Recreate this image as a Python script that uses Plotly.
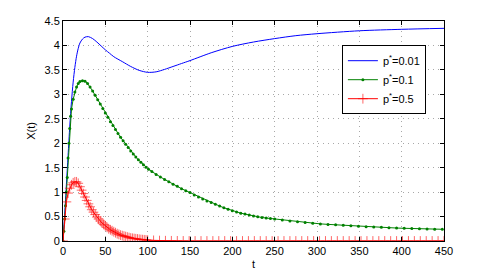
import plotly.graph_objects as go

# ---- data ----
t_blue = [0, 2, 4, 6, 8, 10, 12, 14, 16, 18, 20, 23, 26, 30, 35, 40, 45, 50, 55, 60,
          70, 80, 90, 100, 110, 120, 130, 140, 150, 175, 200, 225, 250, 275, 300,
          350, 400, 450]
x_blue = [0, 0.55, 1.15, 1.75, 2.35, 2.85, 3.25, 3.55, 3.78, 3.94, 4.05, 4.13, 4.17,
          4.18, 4.14, 4.07, 3.99, 3.91, 3.84, 3.77, 3.67, 3.57, 3.49, 3.45, 3.46,
          3.51, 3.57, 3.63, 3.69, 3.85, 3.98, 4.07, 4.14, 4.20, 4.24, 4.30, 4.33, 4.35]

t_green = [0, 1, 2, 3, 4, 5, 6, 7, 8, 9, 10, 12, 14, 16, 18, 20, 23, 26, 29, 32, 35,
           38, 41, 44, 47, 50, 53, 56, 59, 62, 65, 68, 71, 74, 77, 80, 83, 86, 89, 92,
           95, 98, 101, 105, 110, 115, 120, 125, 130, 135, 140, 145, 150, 155, 160,
           165, 170, 175, 180, 185, 190, 195, 200, 205, 210, 215, 220, 225, 230, 235,
           240, 245, 250, 259, 268, 277, 286, 295, 304, 313, 322, 331, 340, 349, 358,
           367, 376, 385, 394, 403, 412, 421, 430, 439, 448]
x_green = [0, 0.2, 0.45, 0.72, 1.0, 1.3, 1.7, 2.0, 2.3, 2.55, 2.7, 2.9, 3.05, 3.15,
           3.22, 3.26, 3.28, 3.27, 3.22, 3.15, 3.07, 2.98, 2.89, 2.80, 2.71, 2.62,
           2.53, 2.44, 2.36, 2.28, 2.20, 2.12, 2.05, 1.98, 1.91, 1.84, 1.78, 1.72,
           1.66, 1.61, 1.56, 1.51, 1.47, 1.42, 1.36, 1.31, 1.26, 1.21, 1.16, 1.12,
           1.07, 1.03, 0.99, 0.94, 0.90, 0.86, 0.82, 0.785, 0.75, 0.715, 0.68, 0.65,
           0.62, 0.595, 0.57, 0.55, 0.53, 0.51, 0.495, 0.48, 0.47, 0.46, 0.45, 0.43,
           0.41, 0.395, 0.38, 0.365, 0.35, 0.34, 0.33, 0.32, 0.31, 0.30, 0.29, 0.285,
           0.28, 0.27, 0.265, 0.26, 0.255, 0.25, 0.245, 0.24, 0.24]

t_red = [0, 2, 4, 6, 8, 10, 12, 14, 16, 18, 20, 22, 24, 26, 28, 30, 32, 34, 36, 38,
         40, 42, 44, 46, 48, 50, 52, 54, 56, 58, 60, 62, 64, 66, 68, 70, 72, 74, 76,
         78, 80, 82, 84, 86, 88, 90, 92, 94, 96, 98, 100, 107, 114, 121, 128, 135,
         142, 149, 156, 163, 170, 177, 184, 191, 198, 205, 212, 219, 226, 233, 240,
         247, 254, 261, 268, 275, 282, 289, 296, 303, 310, 317, 324, 331, 338, 345,
         352, 359, 366, 373, 380, 387, 394, 401, 408, 415, 422, 429, 436, 443, 450]
x_red = [0, 0.45, 0.8, 0.98, 1.08, 1.15, 1.19, 1.21, 1.21, 1.18, 1.11, 1.04, 0.97,
         0.90, 0.83, 0.76, 0.70, 0.64, 0.59, 0.54, 0.49, 0.45, 0.41, 0.37, 0.34,
         0.31, 0.28, 0.25, 0.23, 0.21, 0.19, 0.17, 0.15, 0.135, 0.12, 0.11, 0.10,
         0.09, 0.08, 0.07, 0.06, 0.055, 0.05, 0.045, 0.04, 0.035, 0.03, 0.027,
         0.024, 0.021, 0.018, 0.012, 0.008, 0.005, 0.003, 0.002, 0.001, 0, 0, 0, 0,
         0, 0, 0, 0, 0, 0, 0, 0, 0, 0, 0, 0, 0, 0, 0, 0, 0, 0, 0, 0, 0, 0, 0, 0,
         0, 0, 0, 0, 0, 0, 0, 0, 0, 0, 0, 0, 0, 0, 0, 0, 0]

x_ticks = [0, 50, 100, 150, 200, 250, 300, 350, 400, 450]
y_ticks = [0, 0.5, 1, 1.5, 2, 2.5, 3, 3.5, 4, 4.5]
names = ["p<sup>*</sup>=0.01", "p<sup>*</sup>=0.1", "p<sup>*</sup>=0.5"]

FONT = "Liberation Sans, Arial, sans-serif"

fig = go.Figure()
fig.add_trace(go.Scatter(x=t_blue, y=x_blue, mode="lines", name=names[0],
                         line=dict(color="#0000ff", width=1, shape="spline",
                                   smoothing=0.8)))
fig.add_trace(go.Scatter(x=t_green, y=x_green, mode="lines+markers", name=names[1],
                         line=dict(color="#008000", width=1),
                         marker=dict(symbol="circle", size=3, color="#008000")))
fig.add_trace(go.Scatter(x=t_red, y=x_red, mode="lines+markers", name=names[2],
                         line=dict(color="#ff0000", width=1),
                         marker=dict(symbol="cross-thin", size=7,
                                     line=dict(color="rgba(255,0,0,0.6)", width=1))))

axis_common = dict(showline=True, linecolor="black", linewidth=1, mirror="ticks",
                   ticks="inside", ticklen=4, tickcolor="black", automargin=False,
                   showgrid=True, gridcolor="#a8a8a8", griddash="1px,4px", gridwidth=1,
                   zeroline=False, tickfont=dict(size=11, color="black", family=FONT))

fig.update_xaxes(range=[0, 450], tickvals=x_ticks,
                 title=dict(text="t", font=dict(size=11, color="black", family=FONT),
                            standoff=4),
                 **axis_common)
fig.update_yaxes(range=[0, 4.5], tickvals=y_ticks,
                 title=dict(text="X(t)", font=dict(size=11, color="black", family=FONT),
                            standoff=6),
                 **axis_common)

fig.update_layout(
    width=491, height=273,
    margin=dict(l=63, r=47, t=21, b=32),
    paper_bgcolor="white", plot_bgcolor="white",
    font=dict(family=FONT, size=11, color="black"),
    showlegend=True,
    legend=dict(x=0.732, y=0.89, xanchor="left", yanchor="top",
                bgcolor="white", bordercolor="black", borderwidth=1,
                font=dict(size=11, family=FONT), tracegroupgap=0,
                itemwidth=30),
)

fig.write_html("out.html", config={"displayModeBar": False},
               post_script="document.body.style.margin='0px';"
                           "document.body.style.overflow='hidden';")
